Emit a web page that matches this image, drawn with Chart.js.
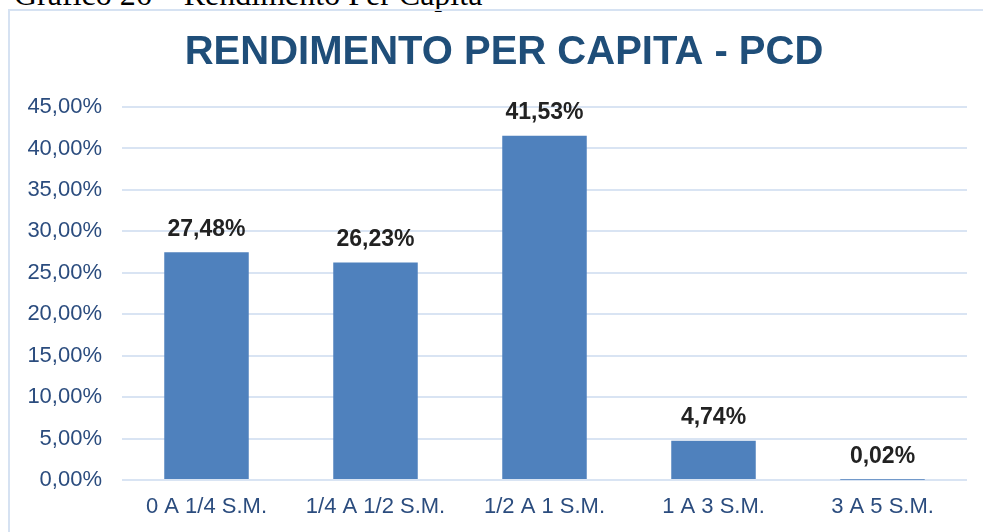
<!DOCTYPE html>
<html>
<head>
<meta charset="utf-8">
<script src="https://cdn.jsdelivr.net/npm/chart.js@4"></script>
<style>
  html, body { margin: 0; padding: 0; background: #fff; overflow: hidden; }
  #wrap { position: relative; width: 983px; height: 532px; overflow: hidden; }
  #heading {
    position: absolute; left: 14px; top: -22px; margin: 0;
    font-family: 'Liberation Serif', 'Times New Roman', serif; font-size: 32px; line-height: 32px;
    color: #000; white-space: nowrap;
  }
  #frame {
    position: absolute; left: 8px; top: 9px; width: 1000px; height: 560px;
    border-left: 2px solid #D6E2F2; border-top: 2px solid #D6E2F2;
  }
  #c { position: absolute; left: 0; top: 0; }
</style>
</head>
<body>
<div id="wrap">
  <div id="heading">Gráfico 26 – Rendimento Per Capita</div>
  <div id="frame"></div>
  <canvas id="c" width="1008" height="532"></canvas>
</div>
<script>
const chartTitle = 'RENDIMENTO PER CAPITA - PCD';
const categories = ['0 A 1/4 S.M.', '1/4 A 1/2 S.M.', '1/2 A 1 S.M.', '1 A 3 S.M.', '3 A 5 S.M.'];
const values = [27.48, 26.23, 41.53, 4.74, 0.02];
const yMin = 0;
const yMax = 45;
const yStep = 5;

const fmt = v => Number(v).toFixed(2).replace('.', ',') + '%';
const FONT = "'Liberation Sans', Arial, sans-serif";
const blue = '#2B4C7E';

const valueLabels = {
  id: 'valueLabels',
  afterDatasetsDraw(chart) {
    const ctx = chart.ctx;
    const meta = chart.getDatasetMeta(0);
    ctx.save();
    ctx.font = 'bold 23px ' + FONT;
    ctx.fillStyle = '#222222';
    ctx.textAlign = 'center';
    ctx.textBaseline = 'middle';
    meta.data.forEach((el, i) => {
      ctx.fillText(fmt(values[i]), el.x, el.y - 23);
    });
    ctx.restore();
  }
};

new Chart(document.getElementById('c'), {
  type: 'bar',
  data: {
    labels: categories,
    datasets: [{
      data: values,
      backgroundColor: '#4F81BD',
      borderWidth: 0,
      barPercentage: 0.5,
      categoryPercentage: 1.0,
      yAxisID: 'y'
    }]
  },
  options: {
    responsive: false,
    animation: false,
    devicePixelRatio: 1,
    layout: { padding: { left: 0, right: 0, top: 0, bottom: 0 } },
    plugins: {
      legend: { display: false },
      tooltip: { enabled: false },
      title: {
        display: true,
        text: chartTitle,
        color: '#1F4E79',
        font: { family: FONT, size: 40, weight: 'bold', lineHeight: 1.2 },
        padding: { top: 29, bottom: 30 }
      }
    },
    scales: {
      x: {
        grid: { display: false, drawTicks: false },
        border: { display: false },
        ticks: { color: blue, font: { family: FONT, size: 22 }, padding: 14, maxRotation: 0 },
        afterFit(scale) { scale.height = 52; }
      },
      y: {
        min: yMin, max: yMax,
        grid: { color: '#D9E4F3', lineWidth: 2, drawTicks: false },
        border: { display: false },
        ticks: {
          stepSize: yStep, color: blue, padding: 20,
          font: { family: FONT, size: 22 },
          callback: v => fmt(v)
        },
        afterFit(scale) { scale.width = 122; }
      },
      spacer: {
        type: 'linear',
        position: 'right',
        display: true,
        grid: { display: false, drawTicks: false },
        border: { display: false },
        ticks: { display: false },
        afterFit(scale) { scale.width = 41; }
      }
    }
  },
  plugins: [valueLabels]
});
</script>
</body>
</html>
